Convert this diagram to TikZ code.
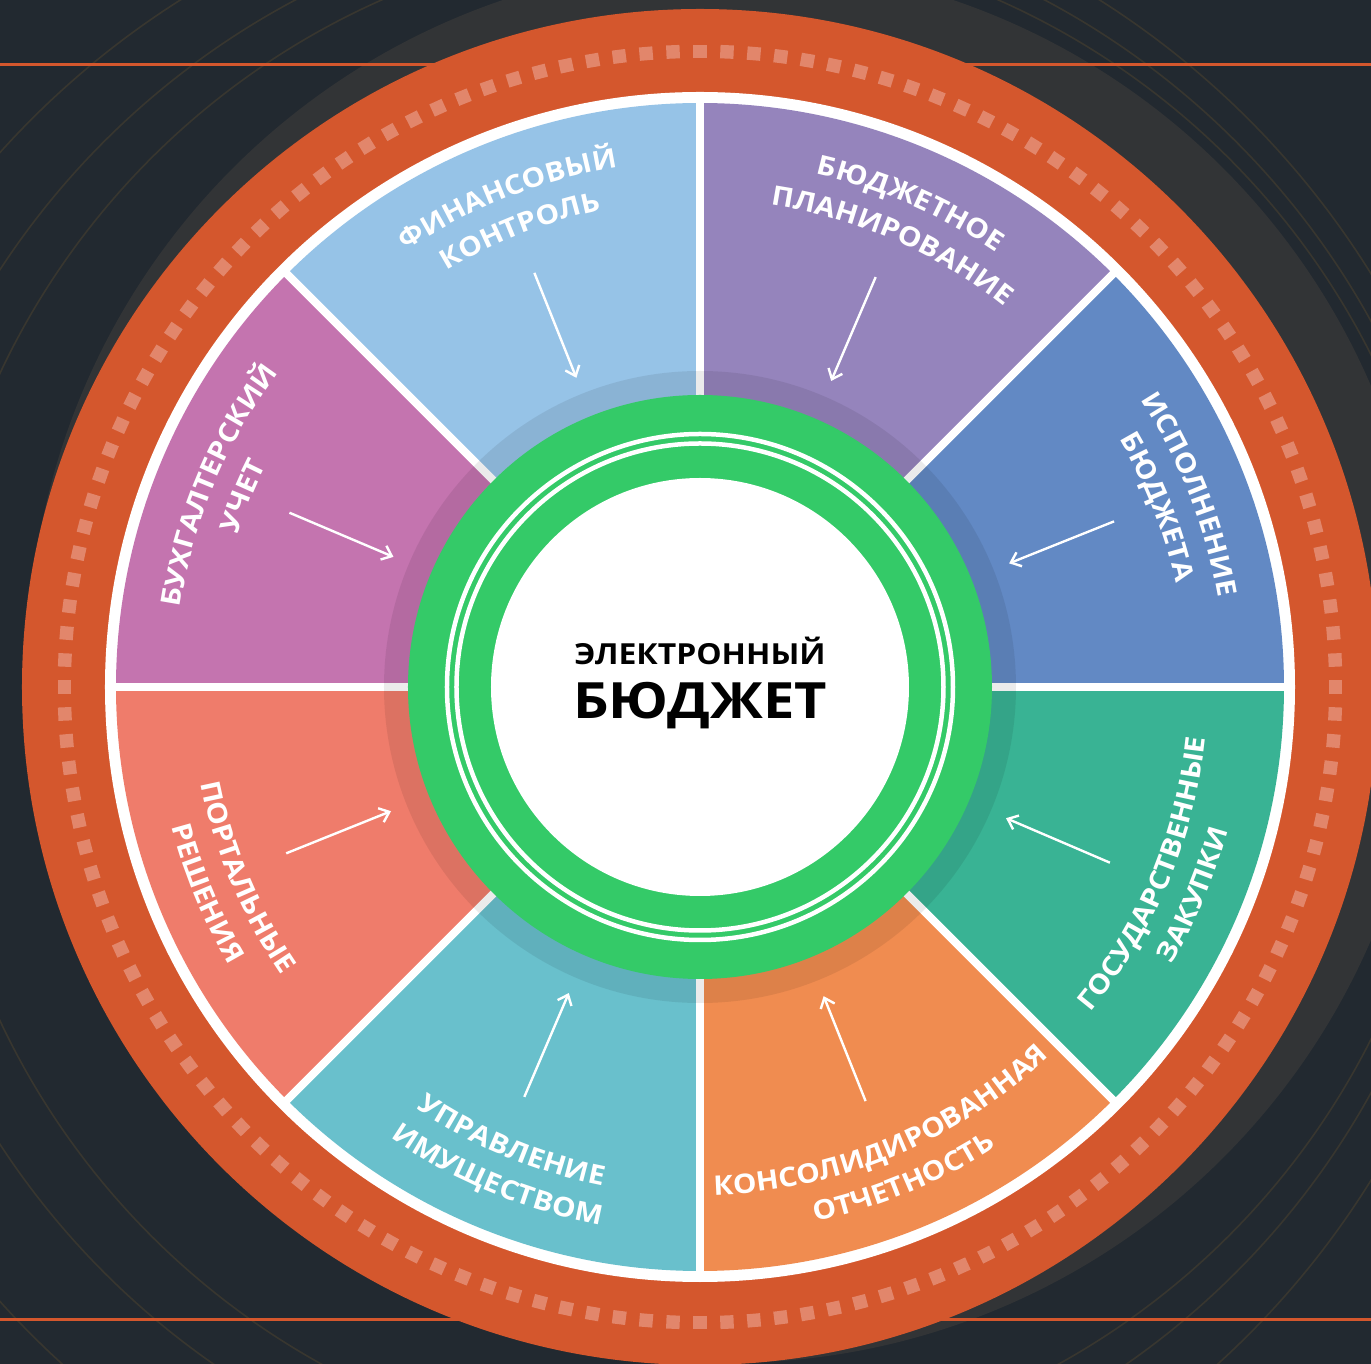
\documentclass[tikz,border=0pt]{standalone}
\usepackage{fontspec}
\setmainfont{Open Sans}
\newfontfamily\widefont{Open Sans}[FakeStretch=1.1]
\newfontfamily\ttlfont{Open Sans}[FakeStretch=1.1]
\newfontfamily\bigfont{Open Sans}[FakeStretch=1.12]
\usetikzlibrary{decorations.text,arrows.meta}
\definecolor{bg}{HTML}{222930}
\definecolor{shadowc}{HTML}{323436}
\definecolor{faint}{HTML}{38362F}
\definecolor{ring}{HTML}{D4572D}
\definecolor{sqc}{HTML}{E2866B}
\definecolor{cA}{HTML}{96C3E7}
\definecolor{cB}{HTML}{9584BC}
\definecolor{cC}{HTML}{6289C4}
\definecolor{cD}{HTML}{39B394}
\definecolor{cE}{HTML}{F08C50}
\definecolor{cF}{HTML}{69C0CC}
\definecolor{cG}{HTML}{EF7C6B}
\definecolor{cH}{HTML}{C474AF}
\definecolor{grn}{HTML}{34CA68}
\newcommand\lblfont{\widefont\bfseries\fontsize{27}{27}\selectfont}
\newcommand\segtext[4]{%
  \path[decorate,decoration={text along path,text={|\lblfont|#4},text align=center,text color=white}]
    (#2:#1) arc[start angle=#2,end angle=#3,radius=#1];}
\begin{document}
\begin{tikzpicture}[x=1pt,y=1pt,
  arr/.style={draw=white,line width=2.4,-{Straight Barb[length=9,width=15]}}]
\useasboundingbox (-700,-677) rectangle (671,687);
\fill[bg] (-700,-677) rectangle (671,687);
% soft shadow towards the upper right
\fill[shadowc] (28,24) circle[radius=700];
% faint background arcs
\begin{scope}[draw=faint,line width=1.6]
\draw (-30,-20) circle[radius=800];
\draw (-10,-10) circle[radius=762];
\draw (-60,-40) circle[radius=860];
\end{scope}
% orange rules
\draw[ring,line width=3] (-700,622.5) -- (671,622.5);
\draw[ring,line width=3] (-700,-632) -- (671,-632);
% orange ring
\fill[ring] (0,0) circle[radius=678];
\foreach \i in {0,...,147}
  \fill[sqc,rotate={2.432432*\i}] (629,-6.7) rectangle (642.4,6.7);
% white disk
\fill[white] (0,0) circle[radius=595];
% sectors
\fill[cB] (0,0) -- (45:584) arc[start angle=45,end angle=90,radius=584] -- cycle;
\fill[cA] (0,0) -- (90:584) arc[start angle=90,end angle=135,radius=584] -- cycle;
\fill[cH] (0,0) -- (135:584) arc[start angle=135,end angle=180,radius=584] -- cycle;
\fill[cG] (0,0) -- (180:584) arc[start angle=180,end angle=225,radius=584] -- cycle;
\fill[cF] (0,0) -- (225:584) arc[start angle=225,end angle=270,radius=584] -- cycle;
\fill[cE] (0,0) -- (270:584) arc[start angle=270,end angle=315,radius=584] -- cycle;
\fill[cD] (0,0) -- (315:584) arc[start angle=315,end angle=360,radius=584] -- cycle;
\fill[cC] (0,0) -- (0:584) arc[start angle=0,end angle=45,radius=584] -- cycle;
\foreach \a in {0,45,...,315}
  \draw[white,line width=8] (0,0) -- (\a:590);
% darker annulus
\fill[black,opacity=0.08] (0,0) circle[radius=316];
% green ring
\fill[grn] (0,0) circle[radius=292];
\draw[white,line width=4.5] (0,0) circle[radius=253];
\draw[white,line width=4.5] (0,0) circle[radius=243.5];
\fill[white] (0,0) circle[radius=209];
% centre title
\node[anchor=base,inner sep=0,font=\ttlfont\bfseries\fontsize{29}{29}\selectfont] (t1) at (0,22) {ЭЛЕКТРОННЫЙ};
\node[anchor=base,inner sep=0,font=\bigfont\bfseries\fontsize{50}{50}\selectfont] (t2) at (0,-32) {БЮДЖЕТ};
% segment labels (upper half: clockwise, lower half: counter-clockwise)
\segtext{526}{156.5}{66.5}{ФИНАНСОВЫЙ}
\segtext{487}{156.5}{66.5}{КОНТРОЛЬ}
\segtext{526}{111.5}{21.5}{БЮДЖЕТНОЕ}
\segtext{487}{111.5}{21.5}{ПЛАНИРОВАНИЕ}
\segtext{526}{66.5}{-23.5}{ИСПОЛНЕНИЕ}
\segtext{487}{66.5}{-23.5}{БЮДЖЕТА}
\segtext{526}{202.3}{112.3}{БУХГАЛТЕРСКИЙ}
\segtext{487}{202.3}{112.3}{УЧЕТ}
\segtext{508}{-67.8}{22.2}{ГОСУДАРСТВЕННЫЕ}
\segtext{547}{-67.8}{22.2}{ЗАКУПКИ}
\segtext{508}{-112.5}{-22.5}{КОНСОЛИДИРОВАННАЯ}
\segtext{547}{-112.5}{-22.5}{ОТЧЕТНОСТЬ}
\segtext{508}{-157.5}{-67.5}{УПРАВЛЕНИЕ}
\segtext{547}{-157.5}{-67.5}{ИМУЩЕСТВОМ}
\segtext{508}{-202.3}{-112.3}{ПОРТАЛЬНЫЕ}
\segtext{547}{-202.3}{-112.3}{РЕШЕНИЯ}
% arrows
\foreach \n/\a in {1/111.8,2/66.8,3/21.8,4/-23.2,5/-68.2,6/-113.2,7/-158.1,8/157.0}{
  \coordinate (s\n) at (\a:446);
  \coordinate (e\n) at (\a:333);
  \draw[arr] (s\n) -- (e\n);
}
\end{tikzpicture}
\end{document}
